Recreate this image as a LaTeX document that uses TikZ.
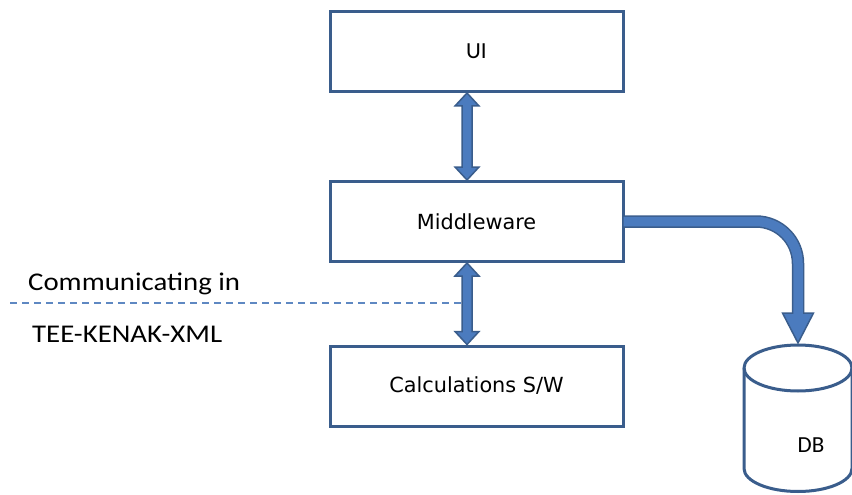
\documentclass[tikz,border=0pt]{standalone}
\usepackage{fontspec}
\setmainfont{Carlito}
\newfontfamily\boxfont{DejaVu Sans}
\newfontfamily\sidefont[FakeStretch=1.13]{Carlito}
\usetikzlibrary{calc}
\definecolor{bordercol}{HTML}{3A5D8C}
\definecolor{arrowfill}{HTML}{4B7BBE}
\definecolor{dashcol}{HTML}{5E88C2}
\newcommand\vdarrow[2]{%
  \draw[dblarrow] let \p1=#1, \p2=#2 in
    (\x1,\y1) -- (\x1-12pt,\y1-13pt) -- (\x1-5pt,\y1-13pt) -- (\x1-5pt,\y2+13pt)
    -- (\x1-12pt,\y2+13pt) -- (\x1,\y2) -- (\x1+12pt,\y2+13pt) -- (\x1+5pt,\y2+13pt)
    -- (\x1+5pt,\y1-13pt) -- (\x1+12pt,\y1-13pt) -- cycle;}
\begin{document}
\begin{tikzpicture}[x=1pt,y=-1pt,
  box/.style={draw=bordercol, line width=3pt, fill=white, minimum width=293pt,
    minimum height=80pt, inner sep=0pt},
  dblarrow/.style={fill=arrowfill, draw=bordercol, line width=1.5pt, line join=miter},
  boxtext/.style={font=\boxfont\fontsize{20.8}{25}\selectfont},
  sidetext/.style={anchor=base west, inner sep=0pt, font=\sidefont\fontsize{25.5}{30}\selectfont}]
\useasboundingbox (0,0) rectangle (852,495);
\fill[white] (0,0) rectangle (852,495);

% boxes
\node[box, font=\fontsize{23}{28}\selectfont] (ui) at (476.5,51.5) {UI};
\node[box, boxtext] (mw) at (476.5,221.5) {Middleware};
\node[box, boxtext] (calc) at (476.5,386) {Calculations S/W};

% double arrows
\vdarrow{([xshift=-9.5pt]ui.south)}{([xshift=-9.5pt]mw.north)}
\vdarrow{([xshift=-9.5pt]mw.south)}{([xshift=-9.5pt]calc.north)}

% dashed line and side texts
\coordinate (dashL) at (10,303);
\coordinate (dashR) at (462,303);
\draw[dashcol, line width=1.6pt, dash pattern=on 7pt off 5pt] (dashL) -- (dashR);
\node[sidetext] (comm) at (28,290) {Communicating in};
\node[sidetext] (tee) at (32,342) {TEE-KENAK-XML};

% database cylinder
\draw[bordercol, line width=3pt, fill=white]
  (744,368) -- (744,468.5)
  arc[start angle=180, end angle=360, x radius=54pt, y radius=23pt]
  -- (852,368)
  arc[start angle=0, end angle=180, x radius=54pt, y radius=23pt] -- cycle;
\draw[bordercol, line width=3pt]
  (744,368) arc[start angle=180, end angle=360, x radius=54pt, y radius=23pt];
\node[font=\fontsize{23}{28}\selectfont] (db) at (811,445) {DB};
\coordinate (dbtop) at (798,345);

% curved arrow middleware -> DB
\draw[bordercol, line width=12.5pt, rounded corners=42pt]
  (mw.east) -| ($(dbtop)+(0,32pt)$);
\draw[fill=arrowfill, draw=bordercol, line width=1.5pt, line join=miter]
  ($(dbtop)+(0,2pt)$) -- ++(-15.5pt,30pt) -- ++(31pt,0pt) -- cycle;
\draw[arrowfill, line width=9.5pt, rounded corners=42pt]
  ([xshift=-1pt]mw.east) -| ($(dbtop)+(0,30pt)$);
\end{tikzpicture}
\end{document}
